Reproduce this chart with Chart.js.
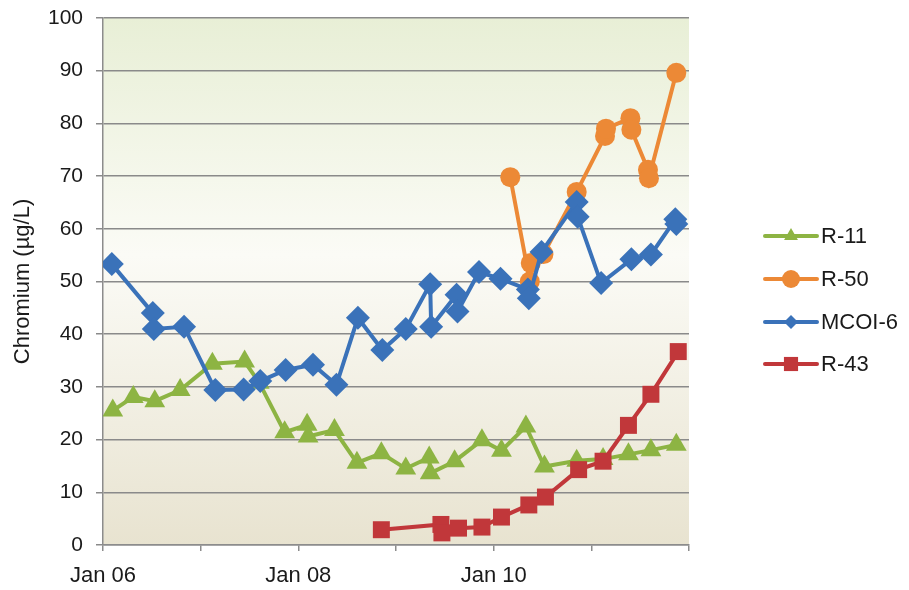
<!DOCTYPE html>
<html>
<head>
<meta charset="utf-8">
<script src="https://cdn.jsdelivr.net/npm/chart.js@4"></script>
<style>
    body { margin: 0; background: #fff; }
    #wrap { width: 909px; height: 590px; }
</style>
</head>
<body>
<div id="wrap"><canvas id="js--chart"></canvas></div>
<script>
// sample dates as decimal years, values in ug/L
const r11Dates = [2006.10, 2006.31, 2006.53, 2006.79, 2007.12, 2007.45, 2007.60, 2007.86, 2008.09, 2008.10, 2008.37, 2008.60, 2008.85, 2009.10, 2009.34, 2009.35, 2009.60, 2009.88, 2010.08, 2010.33, 2010.52, 2010.85, 2011.12, 2011.38, 2011.61, 2011.87];
const r11Values = [25.5, 28.1, 27.3, 29.4, 34.4, 34.8, 30.8, 21.4, 22.8, 20.6, 21.8, 15.6, 17.4, 14.5, 16.6, 13.6, 15.9, 19.9, 17.9, 22.5, 14.9, 16.0, 16.3, 17.2, 18.0, 19.0];

const r50Dates = [2010.17, 2010.37, 2010.38, 2010.51, 2010.85, 2011.14, 2011.15, 2011.40, 2011.41, 2011.58, 2011.59, 2011.87];
const r50Values = [69.8, 50.0, 53.5, 55.2, 67.0, 77.6, 79.0, 81.0, 78.8, 71.2, 69.6, 89.6];

const mcoiDates = [2006.09, 2006.51, 2006.52, 2006.83, 2007.15, 2007.44, 2007.61, 2007.87, 2008.15, 2008.39, 2008.61, 2008.86, 2009.10, 2009.35, 2009.36, 2009.62, 2009.63, 2009.85, 2010.07, 2010.35, 2010.36, 2010.49, 2010.85, 2010.86, 2011.10, 2011.41, 2011.61, 2011.86, 2011.87];
const mcoiValues = [53.3, 44.0, 41.0, 41.4, 29.4, 29.5, 31.1, 33.2, 34.2, 30.4, 43.1, 37.0, 41.0, 49.5, 41.4, 47.5, 44.3, 51.8, 50.5, 48.5, 46.8, 55.6, 65.1, 62.3, 49.7, 54.2, 55.1, 61.8, 60.9];

const r43Dates = [2008.85, 2009.46, 2009.47, 2009.64, 2009.88, 2010.08, 2010.36, 2010.53, 2010.87, 2011.12, 2011.38, 2011.61, 2011.89];
const r43Values = [2.9, 3.9, 2.3, 3.2, 3.4, 5.3, 7.6, 9.1, 14.3, 15.9, 22.7, 28.6, 36.7];

const seriesNames = ['R-11', 'R-50', 'MCOI-6', 'R-43'];
const xTickLabels = {2006: 'Jan 06', 2008: 'Jan 08', 2010: 'Jan 10'};
const yTitle = 'Chromium (\u00b5g/L)';

const colors = ['#8db443', '#ec8936', '#3a72b9', '#c1373a'];
const markers = ['triangle', 'circle', 'rectRot', 'rect'];
const markerSize = [12, 10, 12, 12];
const legendMarkerSize = [8, 9, 7, 10];

function toPoints(dates, values) {
    return dates.map(function (d, i) { return {x: d, y: values[i]}; });
}

const allDates = [r11Dates, r50Dates, mcoiDates, r43Dates];
const allValues = [r11Values, r50Values, mcoiValues, r43Values];

const datasets = seriesNames.map(function (name, i) {
    return {
        label: name,
        data: toPoints(allDates[i], allValues[i]),
        borderColor: colors[i],
        backgroundColor: colors[i],
        borderWidth: 4,
        pointStyle: markers[i],
        pointRadius: markerSize[i],
        pointBorderWidth: 0,
        tension: 0,
    };
});
// stacking: red on top, then blue, green, orange
datasets[0].order = 2;
datasets[1].order = 3;
datasets[2].order = 1;
datasets[3].order = 0;

const fontFamily = '"Liberation Sans", Arial, sans-serif';

const bgPlugin = {
    id: 'plotBg',
    beforeDraw: function (chart) {
        const a = chart.chartArea;
        const ctx = chart.ctx;
        const g = ctx.createLinearGradient(0, a.top, 0, a.bottom);
        g.addColorStop(0, '#e8efd6');
        g.addColorStop(0.45, '#fbfbf6');
        g.addColorStop(1, '#e8e3d0');
        ctx.save();
        ctx.fillStyle = g;
        ctx.fillRect(a.left, a.top, a.right - a.left, a.bottom - a.top);
        ctx.restore();
    }
};

const legendPlugin = {
    id: 'sideLegend',
    afterDraw: function (chart) {
        const ctx = chart.ctx;
        const rows = [236, 279, 322, 364];
        ctx.save();
        seriesNames.forEach(function (name, i) {
            const y = rows[i];
            ctx.strokeStyle = colors[i];
            ctx.lineWidth = 4;
            ctx.lineCap = 'round';
            ctx.beginPath();
            ctx.moveTo(765, y);
            ctx.lineTo(817, y);
            ctx.stroke();
            ctx.fillStyle = colors[i];
            Chart.helpers.drawPoint(ctx, {
                pointStyle: markers[i],
                radius: legendMarkerSize[i],
                rotation: 0,
                borderWidth: 0
            }, 791, y);
            ctx.fillStyle = '#1a1a1a';
            ctx.font = '22px ' + fontFamily;
            ctx.textBaseline = 'middle';
            ctx.textAlign = 'left';
            ctx.fillText(name, 821, y + 1);
        });
        ctx.restore();
    }
};

const config = {
    type: 'line',
    data: { datasets: datasets },
    options: {
        responsive: true,
        maintainAspectRatio: false,
        animation: false,
        layout: { padding: { top: 18, right: 220, left: 0, bottom: 0 } },
        plugins: { legend: { display: false }, tooltip: { enabled: false } },
        scales: {
            x: {
                type: 'linear',
                min: 2006,
                max: 2012,
                afterFit: function (scale) {
                    scale.height = 45;
                    scale.paddingLeft = 0;
                    scale.paddingRight = 0;
                },
                ticks: {
                    stepSize: 1,
                    autoSkip: false,
                    maxRotation: 0,
                    color: '#1a1a1a',
                    font: { size: 22, family: fontFamily },
                    padding: 12,
                    callback: function (v) { return xTickLabels[v] || ''; }
                },
                grid: {
                    drawOnChartArea: false,
                    drawTicks: true,
                    tickLength: 6,
                    color: '#8c8c8c',
                    lineWidth: 1.5
                },
                border: { color: '#8c8c8c', width: 1.5 }
            },
            y: {
                min: 0,
                max: 100,
                afterFit: function (scale) {
                    scale.width = 103;
                    scale.paddingTop = 0;
                    scale.paddingBottom = 0;
                },
                ticks: {
                    stepSize: 10,
                    color: '#1a1a1a',
                    font: { size: 21, family: fontFamily },
                    padding: 13
                },
                title: {
                    display: true,
                    text: yTitle,
                    color: '#1a1a1a',
                    font: { size: 22, family: fontFamily },
                    padding: { top: 10, bottom: 0 }
                },
                grid: {
                    color: '#8a8a8a',
                    lineWidth: 1.5,
                    tickLength: 7
                },
                border: { color: '#8c8c8c', width: 1.5 }
            }
        }
    },
    plugins: [bgPlugin, legendPlugin]
};

new Chart(document.getElementById('js--chart'), config);
</script>
</body>
</html>
